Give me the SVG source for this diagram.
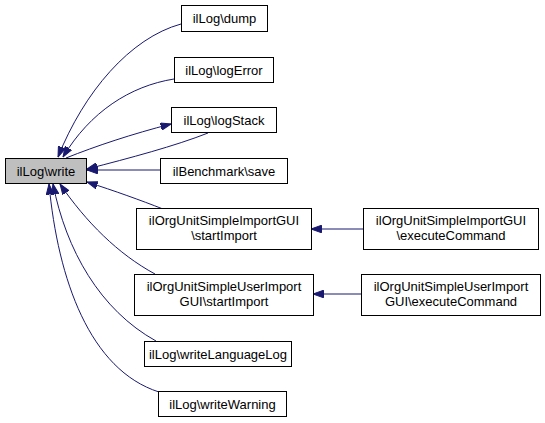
<svg xmlns="http://www.w3.org/2000/svg" width="545" height="423" viewBox="0 0 545 423">
<defs>
<style>
.n rect{fill:#fff;stroke:#000;stroke-width:1}
.n text{font-family:"Liberation Sans",Arial,sans-serif;font-size:13px;fill:#000;text-anchor:middle}
.e path{fill:none;stroke:#191970;stroke-width:1;marker-end:url(#ah)}
</style>
<marker id="ah" markerUnits="userSpaceOnUse" markerWidth="11" markerHeight="8" refX="10.5" refY="3.75" orient="auto" viewBox="0 0 11 7.5">
<path d="M0,0 L10.5,3.75 L0,7.5 z" fill="#191970" stroke="#191970" stroke-width="1"/>
</marker>
</defs>
<rect width="545" height="423" fill="#fff"/>
<g id="connectors" class="e">
<path d="M181,24 C130,38 84,92 58,157"/>
<path d="M174,79 C130,86 90,112 63,157"/>
<path d="M66,158 C96,146 132,134 171,124"/>
<path d="M208,133 C175,146 130,158 87,169"/>
<path d="M160,170 L87,170"/>
<path d="M163,209 C140,200 115,191 87,182"/>
<path d="M155,274 C118,254 86,222 60,184"/>
<path d="M156,341 C100,310 66,250 53,184"/>
<path d="M159,392 C90,370 58,280 49,184"/>
<path d="M363,229 L311,229"/>
<path d="M361,294 L313,294"/>
</g>
<g id="node-write" class="n"><rect x="5.5" y="158.5" width="81" height="25" style="fill:#bfbfbf"/><text x="46" y="175.5">ilLog\write</text></g>
<g id="node-dump" class="n"><rect x="181.5" y="5.5" width="86" height="26"/><text x="224.5" y="23">ilLog\dump</text></g>
<g id="node-logError" class="n"><rect x="174.5" y="57.5" width="99" height="25"/><text x="224" y="74.5">ilLog\logError</text></g>
<g id="node-logStack" class="n"><rect x="171.5" y="107.5" width="105" height="25"/><text x="224" y="124.5">ilLog\logStack</text></g>
<g id="node-save" class="n"><rect x="160.5" y="158.5" width="127" height="25"/><text x="224" y="175.5">ilBenchmark\save</text></g>
<g id="node-startImport" class="n"><rect x="136.5" y="208.5" width="175" height="41"/><text x="224" y="225">ilOrgUnitSimpleImportGUI</text><text x="224" y="240">\startImport</text></g>
<g id="node-userStartImport" class="n"><rect x="134.5" y="274.5" width="179" height="41"/><text x="224" y="291">ilOrgUnitSimpleUserImport</text><text x="224" y="306">GUI\startImport</text></g>
<g id="node-writeLanguageLog" class="n"><rect x="144.5" y="341.5" width="147" height="25"/><text x="218" y="358.5">ilLog\writeLanguageLog</text></g>
<g id="node-writeWarning" class="n"><rect x="158.5" y="391.5" width="128" height="25"/><text x="222.5" y="408.5">ilLog\writeWarning</text></g>
<g id="node-execCmd" class="n"><rect x="363.5" y="208.5" width="175" height="41"/><text x="451" y="225">ilOrgUnitSimpleImportGUI</text><text x="451" y="240">\executeCommand</text></g>
<g id="node-userExecCmd" class="n"><rect x="361.5" y="274.5" width="179" height="41"/><text x="451" y="291">ilOrgUnitSimpleUserImport</text><text x="451" y="306">GUI\executeCommand</text></g>
</svg>
